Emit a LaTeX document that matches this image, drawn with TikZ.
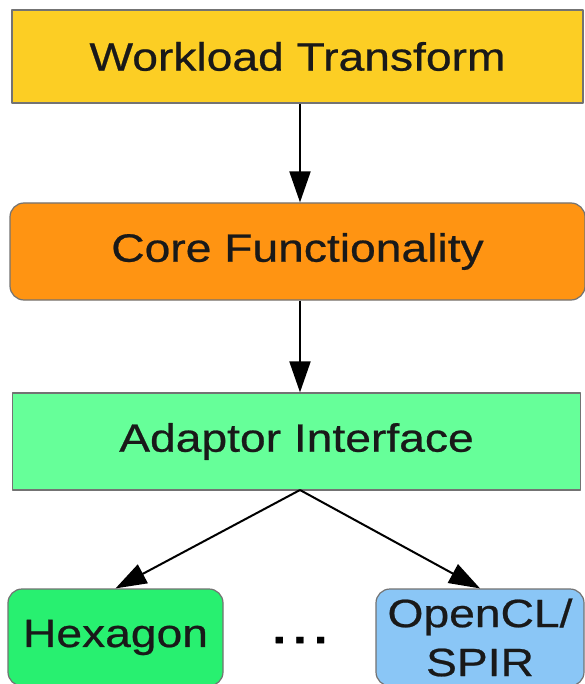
\documentclass[tikz,border=0pt]{standalone}
\usepackage{fontspec}
\setmainfont{Liberation Sans}[FakeStretch=1.17, FakeBold=0.6]
\usetikzlibrary{arrows.meta}
\definecolor{wtyellow}{RGB}{252,206,36}
\definecolor{coreorange}{RGB}{255,148,18}
\definecolor{adaptgreen}{RGB}{102,255,153}
\definecolor{hexgreen}{RGB}{40,240,112}
\definecolor{oclblue}{RGB}{138,198,246}
\tikzset{
	layer/.style={draw=black!55, line width=1.2pt, inner sep=0pt, text=black!90,
		font=\fontsize{39.5}{49}\selectfont, align=center},
	flow/.style={->, line width=2pt}
}
\begin{document}
\begin{tikzpicture}[x=1pt, y=-1pt, line join=round, >={Triangle[length=31pt,width=21pt]}]
			\def\W{585} 	\def\H{684}
			\clip (0,0) rectangle (\W,\H);
			\fill[white] (0,0) rectangle (\W,\H);
			\node[layer, fill=wtyellow, minimum width=571, minimum height=93] (wt) at (297.5,56.5) {Workload Transform};
			\node[layer, fill=coreorange, rounded corners=14pt, minimum width=575, minimum height=97] (core) at (297.5,251.5) {Core Functionality};
			\node[layer, fill=adaptgreen, minimum width=568, minimum height=97] (adapt) at (296.5,441.5) {Adaptor Interface};
			\node[layer, fill=hexgreen, rounded corners=14pt, minimum width=215, minimum height=97] (hex) at (115.5,637.5) {Hexagon};
			\node[layer, fill=oclblue, rounded corners=14pt, minimum width=208, minimum height=97] (ocl) at (480,637.5) {OpenCL/\\SPIR};
			\node[font=\fontsize{42}{49}\selectfont\bfseries, inner sep=0pt] (dots) at (300,640) {.\,.\,.};
			\coordinate (split) at (300,490);
			\draw[flow] (wt.south -| split) -- (core.north -| split);
			\draw[flow] (core.south -| split) -- (adapt.north -| split);
			\draw[flow] (split) -- (hex.north);
			\draw[flow] (split) -- (ocl.north);
		\end{tikzpicture}
\end{document}
